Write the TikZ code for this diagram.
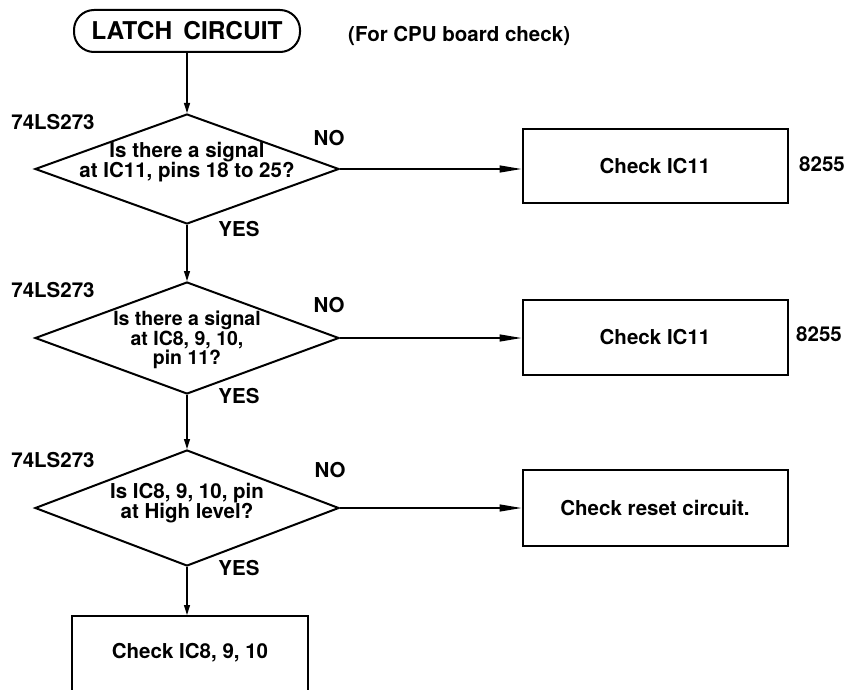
\documentclass[tikz,border=0pt]{standalone}
\usepackage{fontspec}
\setmainfont{TeX Gyre Heros}
\usetikzlibrary{shapes.geometric,arrows.meta}
\tikzset{
  txt/.style={font=\fontsize{20.5}{18}\selectfont\bfseries, inner sep=0pt, align=center},
  tight/.style={font=\fontsize{19.5}{16.5}\selectfont\bfseries},
  dia/.style={draw, line width=2pt, diamond, inner sep=0pt, minimum width=304pt, minimum height=#1},
  procbox/.style={draw, line width=2pt, rectangle, inner sep=0pt, minimum width=265pt, minimum height=#1, font=\fontsize{20.5}{19}\selectfont\bfseries},
  term/.style={draw, line width=2pt, rectangle, rounded corners=20pt, minimum width=226pt, minimum height=42pt, inner sep=0pt, font=\fontsize{24.5}{26}\selectfont\bfseries},
  varrow/.style={line width=1.4pt, -{Triangle[length=10pt,width=6pt]}},
  harrow/.style={line width=1.4pt, -{Triangle[length=22pt,width=7pt]}},
}
\begin{document}
\begin{tikzpicture}[x=1pt,y=-1pt]
\useasboundingbox (0,0) rectangle (851,690);
\clip (0,0) rectangle (851,690);

% start terminal
\node[term] (start) at (187,31) {LATCH\hskip0.45em CIRCUIT};
\node[txt, anchor=west] (note) at (348,36) {(For CPU board check)};

% decision 1
\node[dia=110pt] (d1) at (187,169) {};
\node[txt] (t1) at (187,162) {Is there a signal\\at IC11, pins 18 to 25?};
\node[txt] (ic1) at (53,122) {74LS273};
\node[txt] (no1) at (329,138) {NO};
\node[txt] (yes1) at (239,229) {YES};
\node[procbox=74pt] (b1) at (655,166) {Check IC11};
\node[txt] (n1) at (822,164) {8255};

% decision 2
\node[dia=112pt] (d2) at (187,338) {};
\node[txt, tight] (t2) at (187,340) {Is there a signal\\at IC8, 9, 10,\\pin 11?};
\node[txt] (ic2) at (53,290) {74LS273};
\node[txt] (no2) at (329,305) {NO};
\node[txt] (yes2) at (239,396) {YES};
\node[procbox=75pt] (b2) at (655,337) {Check IC11};
\node[txt] (n2) at (819,334) {8255};

% decision 3
\node[dia=116pt] (d3) at (187,508) {};
\node[txt] (t3) at (187,503) {Is IC8, 9, 10, pin\\at High level?};
\node[txt] (ic3) at (53,460) {74LS273};
\node[txt] (no3) at (330,470) {NO};
\node[txt] (yes3) at (239,568) {YES};
\node[procbox=76pt] (b3) at (655,508) {Check reset circuit.};

% final box (cut by the lower edge)
\node[procbox=78pt, minimum width=236pt] (b4) at (190,655) {};
\node[txt] (t4) at (190,653) {Check IC8, 9, 10};

% connectors
\draw[varrow] (start.south) -- (d1.north);
\draw[varrow] (d1.south) -- (d2.north);
\draw[varrow] (d2.south) -- (d3.north);
\draw[varrow] (d3.south) -- (d3.south |- b4.north);
\draw[harrow] (d1.east) -- (d1.east -| b1.west);
\draw[harrow] (d2.east) -- (d2.east -| b2.west);
\draw[harrow] (d3.east) -- (d3.east -| b3.west);
\end{tikzpicture}
\end{document}
